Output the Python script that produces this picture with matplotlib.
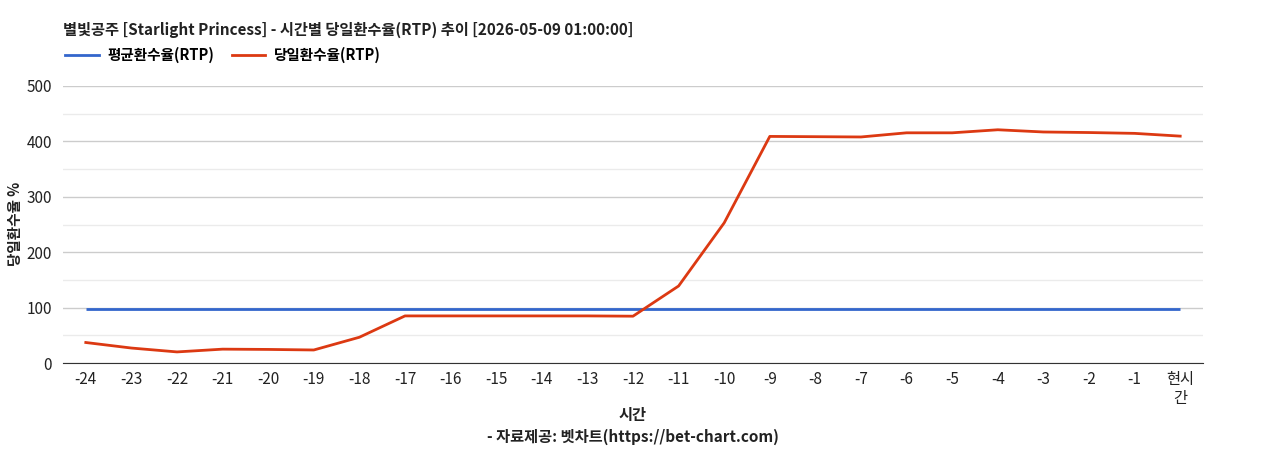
import matplotlib
matplotlib.use('Agg')
import matplotlib.pyplot as plt
from matplotlib.ticker import MultipleLocator
from matplotlib.lines import Line2D

plt.rcParams['font.family'] = ['Noto Sans CJK KR', 'DejaVu Sans']

# 데이터
hours = ['-24', '-23', '-22', '-21', '-20', '-19', '-18', '-17', '-16', '-15',
         '-14', '-13', '-12', '-11', '-10', '-9', '-8', '-7', '-6', '-5',
         '-4', '-3', '-2', '-1', '현시\n간']
avg_rtp = [96.6] * len(hours)
day_rtp = [37, 27, 20, 25, 24.5, 23.5, 46.5, 85, 85, 85,
           85, 85, 84.5, 139, 253, 409, 408.5, 408, 415.5, 415.5,
           421, 417, 416, 414.5, 409.5]

title = '별빛공주 [Starlight Princess] - 시간별 당일환수율(RTP) 추이 [2026-05-09 01:00:00]'
blue = '#3366cc'
red = '#dc3912'

fig = plt.figure(figsize=(12.68, 4.5), dpi=100)
ax = fig.add_axes([63 / 1268, 1 - 363 / 450, 1140 / 1268, 277 / 450])

x = list(range(len(hours)))
ax.plot(x, avg_rtp, color=blue, lw=2, solid_capstyle='butt', zorder=3)
ax.plot(x, day_rtp, color=red, lw=2, solid_joinstyle='round', zorder=4)

ax.set_xlim(-0.5, len(hours) - 0.5)
ax.set_ylim(0, 500)
ax.yaxis.set_major_locator(MultipleLocator(100))
ax.yaxis.set_minor_locator(MultipleLocator(50))
ax.grid(which='major', axis='y', color='#cccccc', lw=1)
ax.grid(which='minor', axis='y', color='#ebebeb', lw=1)
ax.set_axisbelow(True)

ax.set_xticks(x)
ax.set_xticklabels(hours, fontsize=11, color='#222222', linespacing=1.15)
ax.tick_params(axis='both', which='both', length=0, labelsize=11, colors='#222222')
ax.tick_params(axis='x', pad=6)
ax.tick_params(axis='y', pad=8)

for s in ['top', 'right', 'left']:
    ax.spines[s].set_visible(False)
ax.spines['bottom'].set_color('#333333')

fig.text(15 / 1268, 1 - 224 / 450, '당일환수율 %', fontsize=10.5, fontweight='bold',
         rotation=90, ha='center', va='center', color='#222222')

fig.text(63 / 1268, 1 - 30 / 450, title, fontsize=11, fontweight='bold',
         va='center', ha='left', color='#222222')

handles = [Line2D([], [], color=blue, lw=2), Line2D([], [], color=red, lw=2)]
fig.legend(handles, ['평균환수율(RTP)', '당일환수율(RTP)'], loc='center left',
           bbox_to_anchor=(52 / 1268, 1 - 55 / 450), ncol=2, frameon=False,
           prop={'weight': 'bold', 'size': 10.5}, handlelength=2.3,
           handletextpad=0.6, columnspacing=1.2)

fig.text(633 / 1268, 1 - 415 / 450, '시간', fontsize=11, fontweight='bold',
         ha='center', va='center', color='#222222')
fig.text(633 / 1268, 1 - 437 / 450, '- 자료제공: 벳차트(https://bet-chart.com)',
         fontsize=11, fontweight='bold', ha='center', va='center', color='#222222')

fig.savefig('out.png', dpi=100)
